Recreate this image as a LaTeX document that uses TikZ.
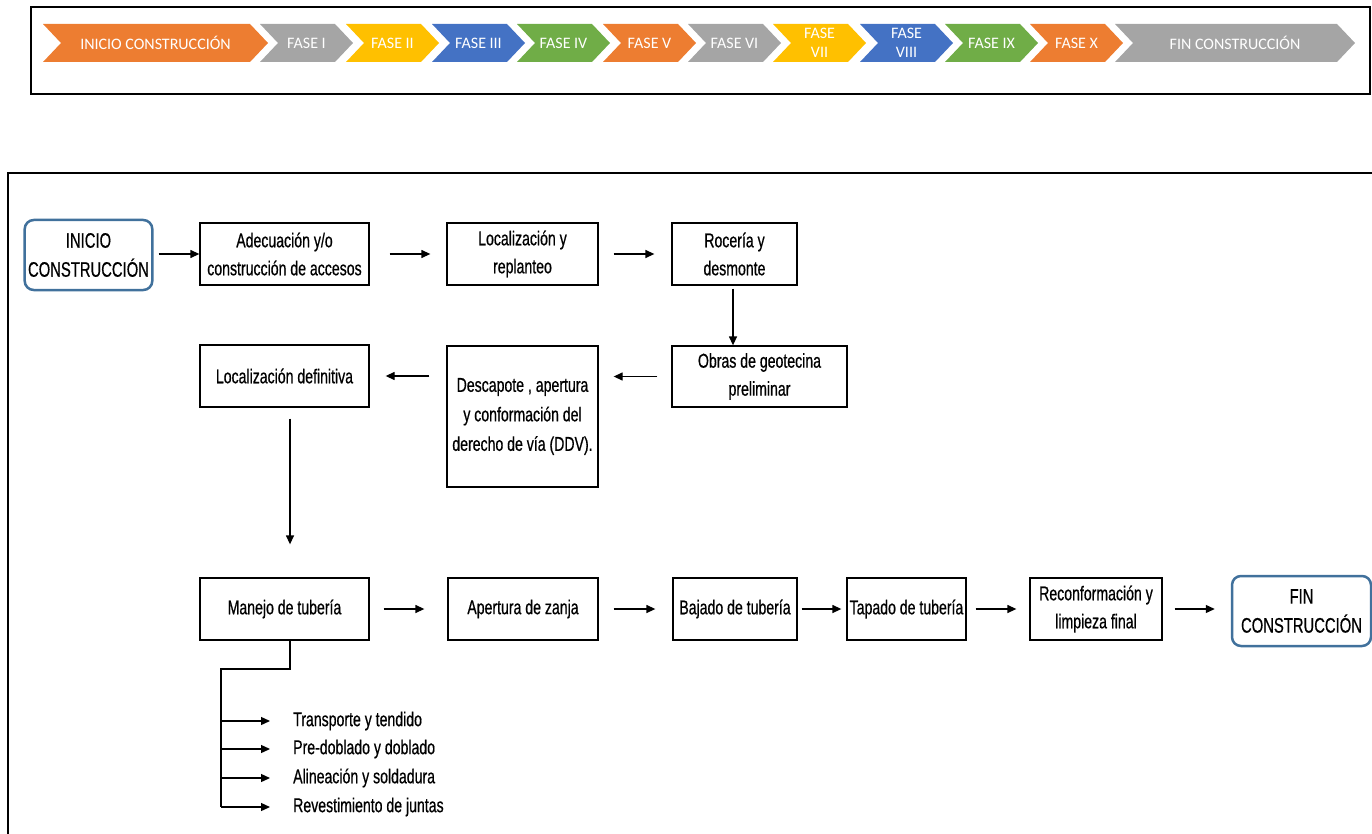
\documentclass[tikz,border=0pt]{standalone}
\usepackage{fontspec}
\usetikzlibrary{arrows.meta}
\newfontfamily\narrowfont[FakeStretch=0.705,FakeBold=0.6]{Liberation Sans}
\newfontfamily\calfont{Carlito}
\definecolor{corange}{HTML}{ED7D31}
\definecolor{cgray}{HTML}{A5A5A5}
\definecolor{cyellow}{HTML}{FFC000}
\definecolor{cblue}{HTML}{4472C4}
\definecolor{cgreen}{HTML}{70AD47}
\definecolor{termline}{HTML}{41719C}
\tikzset{
  phasetext/.style={text=white, font=\calfont\fontsize{16}{19}\selectfont, align=center, inner sep=0pt},
  stepbox/.style={draw=black, line width=1.3pt, align=center, inner sep=2pt,
    font=\narrowfont\fontsize{20}{28}\selectfont},
  termbox/.style={draw=termline, line width=2.5pt, rounded corners=9pt, align=center,
    font=\narrowfont\fontsize{21}{29}\selectfont, minimum width=127pt, minimum height=70pt},
  flow/.style={line width=1.3pt, -{Triangle[length=9pt,width=8pt]}},
  plain/.style={line width=1.3pt},
  subtext/.style={anchor=west, inner sep=0pt, font=\narrowfont\fontsize{20}{22}\selectfont}
}
\begin{document}
\begin{tikzpicture}[x=1pt,y=-1pt]
\useasboundingbox (0,0) rectangle (1372,834);
\clip (0,0) rectangle (1372,834);

% phase strip
\draw[line width=2pt] (31,7) rectangle (1370,94);
\foreach \xl/\xt/\col/\txt [count=\i] in {
  43/268/corange/{INICIO CONSTRUCCIÓN},
  260/353/cgray/{FASE I},
  346/439/cyellow/{FASE II},
  432/525/cblue/{FASE III},
  517/610/cgreen/{FASE IV},
  603/696/corange/{FASE V},
  688/781/cgray/{FASE VI},
  773/866/cyellow/{FASE\\VII},
  860/953/cblue/{FASE\\VIII},
  945/1038/cgreen/{FASE IX},
  1030/1123/corange/{FASE X},
  1115/1355/cgray/{FIN CONSTRUCCIÓN}}{
  \fill[\col] (\xl,24) -- (\xt-18,24) -- (\xt,43) -- (\xt-18,62) -- (\xl,62) -- (\xl+18,43) -- cycle;
  \node[phasetext] (ph\i) at ({(\xl+\xt)/2},43) {\txt};
}

% process frame
\draw[line width=1.5pt] (8,173) rectangle (1420,900);

% process steps
\node[termbox] (ini) at (88.5,255) {INICIO\\CONSTRUCCIÓN};
\node[stepbox, minimum width=169pt, minimum height=62pt] (ade) at (284.5,254) {Adecuación y/o\\construcción de accesos};
\node[stepbox, minimum width=151pt, minimum height=62pt] (loc) at (522.5,254) {Localización y\\replanteo};
\node[stepbox, minimum width=125pt, minimum height=62pt] (roc) at (734.5,254) {Rocería y\\desmonte};
\node[stepbox, minimum width=175pt, minimum height=61pt] (obr) at (759.5,376.5) {Obras de geotecina\\preliminar};
\node[stepbox, minimum width=151pt, minimum height=141pt, font=\narrowfont\fontsize{20}{29.5}\selectfont] (des) at (522.5,416.5) {Descapote , apertura\\y conformación del\\derecho de vía (DDV).};
\node[stepbox, minimum width=169pt, minimum height=62pt] (ldf) at (284.5,376) {Localización definitiva};
\node[stepbox, minimum width=169pt, minimum height=62pt] (man) at (284.5,609) {Manejo de tubería};
\node[stepbox, minimum width=150pt, minimum height=62pt] (ape) at (523,609) {Apertura de zanja};
\node[stepbox, minimum width=124pt, minimum height=62pt] (baj) at (735,609) {Bajado de tubería};
\node[stepbox, minimum width=119pt, minimum height=62pt] (tap) at (906.5,609) {Tapado de tubería};
\node[stepbox, minimum width=132pt, minimum height=62pt] (rec) at (1096,609) {Reconformación y\\limpieza final};
\node[termbox, minimum width=139pt] (fin) at (1301.5,611) {FIN\\CONSTRUCCIÓN};

% connectors
\draw[flow, shorten <=5pt] (ini.east |- ade.west) -- (ade.west);
\draw[flow, shorten <=20pt, shorten >=16pt] (ade.east) -- (loc.west);
\draw[flow, shorten <=15pt, shorten >=17pt] (loc.east) -- (roc.west);
\draw[flow, shorten <=3pt] ([xshift=-1.5pt]roc.south) -- ([xshift=-1.5pt]roc.south |- obr.north);
\draw[flow, shorten <=14pt, shorten >=15pt] (obr.west) -- (obr.west -| des.east);
\draw[flow, shorten <=17pt, shorten >=16pt] (ldf.east -| des.west) -- (ldf.east);
\draw[flow, shorten <=11pt, shorten >=33pt] ([xshift=5.5pt]ldf.south) -- ([xshift=5.5pt]ldf.south |- man.north);
\draw[flow, shorten <=14pt, shorten >=23pt] (man.east) -- (ape.west);
\draw[flow, shorten <=15pt, shorten >=17pt] (ape.east) -- (baj.west);
\draw[flow, shorten <=4pt, shorten >=5pt] (baj.east) -- (tap.west);
\draw[flow, shorten <=9pt, shorten >=13pt] (tap.east) -- (rec.west);
\draw[flow, shorten <=12pt, shorten >=16pt] (rec.east) -- (rec.east -| fin.west);

% pipe handling sub-steps
\node[subtext] (t1) at (293,721) {Transporte y tendido};
\node[subtext] (t2) at (293,749) {Pre-doblado y doblado};
\node[subtext] (t3) at (293,778) {Alineación y soldadura};
\node[subtext] (t4) at (293,807) {Revestimiento de juntas};
\coordinate (knee) at (290,669);
\coordinate (rail) at (221,669);
\draw[plain] ([xshift=5.5pt]man.south) -- (knee) -- (rail) -- (rail |- t4.west);
\foreach \k in {1,2,3,4}{
  \draw[flow, shorten >=23pt] (rail |- t\k.west) -- (t\k.west);
}
\end{tikzpicture}
\end{document}
